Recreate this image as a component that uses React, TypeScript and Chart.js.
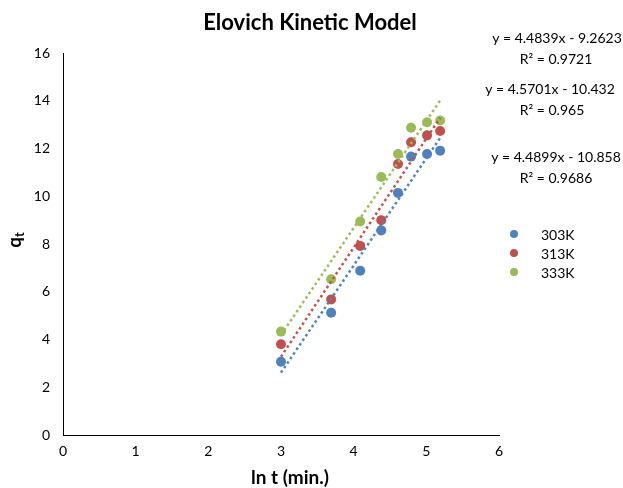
import React, { useEffect, useRef } from "react";
import { Chart, registerables } from "chart.js";

Chart.register(...registerables);

// ---- data ----
const lnTime = [3.0, 3.69, 4.09, 4.38, 4.61, 4.79, 5.01, 5.19];
const q303 = [3.07, 5.12, 6.88, 8.57, 10.14, 11.66, 11.77, 11.91];
const q313 = [3.8, 5.68, 7.92, 9.0, 11.35, 12.26, 12.55, 12.73];
const q333 = [4.33, 6.52, 8.94, 10.81, 11.77, 12.87, 13.1, 13.17];
const seriesNames = ["303K", "313K", "333K"];
const slopes = [4.4899, 4.5701, 4.4839];
const intercepts = [-10.858, -10.432, -9.2623];
const equationLabels = ["y = 4.4899x - 10.858", "y = 4.5701x - 10.432", "y = 4.4839x - 9.2623"];
const r2Labels = ["R² = 0.9686", "R² = 0.965", "R² = 0.9721"];
const xAxisRange = [0, 6];
const yAxisRange = [0, 16];

const colors = ["#4F81BD", "#C0504D", "#9BBB59"];
const FONT = "Lato, 'Open Sans', sans-serif";

// text positions (layout only)
const eqPos = [
  { eq: [556, 157], r2: [556, 178] },
  { eq: [550, 89], r2: [552, 110] },
  { eq: [557, 38], r2: [556, 59] },
];
const legendPos = [234, 253, 272];

const annotationPlugin = {
  id: "annot",
  afterDraw(chart: any) {
    const ctx = chart.ctx;
    ctx.save();
    ctx.fillStyle = "#000";
    // title
    ctx.font = `bold 22px ${FONT}`;
    ctx.textAlign = "center";
    ctx.textBaseline = "middle";
    ctx.fillText("Elovich Kinetic Model", 310, 23);
    // x axis title
    ctx.font = `bold 19px ${FONT}`;
    ctx.fillText("ln t (min.)", 290, 478);
    // y axis title q_t
    ctx.save();
    ctx.translate(15, 240);
    ctx.rotate(-Math.PI / 2);
    ctx.textAlign = "left";
    ctx.font = `bold 19px ${FONT}`;
    const qw = ctx.measureText("q").width;
    ctx.font = `bold 13px ${FONT}`;
    const tw = ctx.measureText("t").width;
    const start = -(qw + tw) / 2;
    ctx.font = `bold 19px ${FONT}`;
    ctx.fillText("q", start, 0);
    ctx.font = `bold 13px ${FONT}`;
    ctx.fillText("t", start + qw, 5);
    ctx.restore();
    // equations
    ctx.font = `14px ${FONT}`;
    ctx.textAlign = "center";
    for (let i = 0; i < equationLabels.length; i++) {
      ctx.fillText(equationLabels[i], eqPos[i].eq[0], eqPos[i].eq[1]);
      ctx.fillText(r2Labels[i], eqPos[i].r2[0], eqPos[i].r2[1]);
    }
    // legend
    ctx.font = `14px ${FONT}`;
    ctx.textAlign = "left";
    for (let i = 0; i < seriesNames.length; i++) {
      ctx.beginPath();
      ctx.fillStyle = colors[i];
      ctx.arc(514, legendPos[i], 4, 0, Math.PI * 2);
      ctx.fill();
      ctx.fillStyle = "#000";
      ctx.fillText(seriesNames[i], 541, legendPos[i] + 1);
    }
    ctx.restore();
  },
};

export default function App() {
  const ref = useRef<HTMLCanvasElement>(null);
  useEffect(() => {
    if (!ref.current) return;
    const series = [q303, q313, q333];
    const xMin = Math.min(...lnTime);
    const xMax = Math.max(...lnTime);
    const pointSets = series.map((ys, i) => ({
      type: "scatter" as const,
      label: seriesNames[i],
      data: lnTime.map((x, j) => ({ x, y: ys[j] })),
      backgroundColor: colors[i],
      borderColor: colors[i],
      pointRadius: 5,
      pointBorderWidth: 0,
      order: 2,
    }));
    const trendSets = slopes.map((m, i) => ({
      type: "scatter" as const,
      label: "Linear (" + seriesNames[i] + ")",
      data: [
        { x: xMin, y: m * xMin + intercepts[i] },
        { x: xMax, y: m * xMax + intercepts[i] },
      ],
      showLine: true,
      borderColor: colors[i],
      borderWidth: 2.5,
      borderDash: [2.5, 3],
      pointRadius: 0,
      order: 1,
    }));
    const chart = new Chart(ref.current, {
      type: "scatter",
      data: { datasets: [...pointSets, ...trendSets] as any },
      options: {
        animation: false,
        responsive: true,
        maintainAspectRatio: false,
        layout: { padding: { top: 53, right: 124, left: 0, bottom: 0 } },
        plugins: { legend: { display: false }, title: { display: false }, tooltip: { enabled: false } },
        scales: {
          x: {
            type: "linear",
            min: xAxisRange[0],
            max: xAxisRange[1],
            ticks: { stepSize: 1, color: "#000", font: { family: FONT, size: 14 }, padding: 8 },
            grid: { display: false, drawTicks: false },
            border: { display: true, color: "#000", width: 1 },
            afterFit: (s: any) => { s.height = 53; },
          },
          y: {
            type: "linear",
            min: yAxisRange[0],
            max: yAxisRange[1],
            ticks: { stepSize: 2, color: "#000", font: { family: FONT, size: 14 }, padding: 13 },
            grid: { display: false, drawTicks: false },
            border: { display: true, color: "#000", width: 1 },
            afterFit: (s: any) => { s.width = 63; },
          },
        },
      } as any,
      plugins: [annotationPlugin],
    });
    return () => chart.destroy();
  }, []);
  return (
    <div style={{ position: "fixed", left: 0, top: 0, width: 623, height: 488, background: "#fff" }}>
      <canvas ref={ref} />
    </div>
  );
}
